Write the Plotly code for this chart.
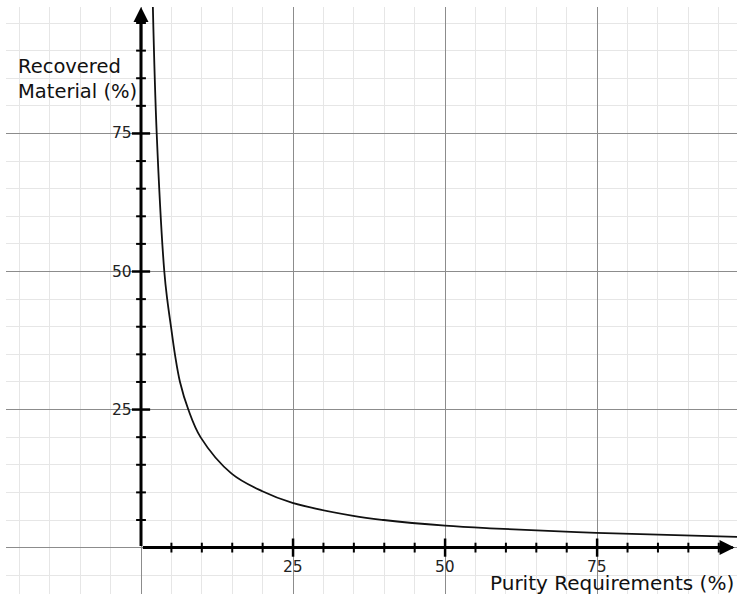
import plotly.graph_objects as go

# Values
purity = [1.95, 2.58, 3.83, 4.33, 4.93, 5.59, 6.41, 7.78, 9.81, 14.9, 19.95, 24.9, 34.9, 39.9, 50.0, 57.4, 74.9, 98.0]
recovered = [97.9, 75.0, 50.0, 44.8, 40.0, 34.9, 30.0, 25.0, 19.96, 13.4, 10.2, 8.1, 5.75, 5.0, 3.98, 3.5, 2.68, 1.96]

x_tick_labels = [25, 50, 75]
y_tick_labels = [25, 50, 75]
x_minor_ticks = [5, 10, 15, 20, 30, 35, 40, 45, 55, 60, 65, 70, 80, 85, 90, 95]
y_minor_ticks = [5, 10, 15, 20, 30, 35, 40, 45, 55, 60, 65, 70, 80, 85, 90, 95]

X_RANGE = [-22.2, 98.0]
Y_RANGE = [-8.4, 97.9]
FONT = "DejaVu Sans"

fig = go.Figure()

# curve
fig.add_trace(go.Scatter(x=purity, y=recovered, mode="lines",
                         line=dict(color="#111", width=1.8, shape="spline", smoothing=1.0),
                         hoverinfo="skip", showlegend=False))

# axis lines
fig.add_trace(go.Scatter(x=[0.3, 97.3], y=[0, 0], mode="lines",
                         line=dict(color="black", width=3), hoverinfo="skip", showlegend=False))
fig.add_trace(go.Scatter(x=[0, 0], y=[0.3, 96.8], mode="lines",
                         line=dict(color="black", width=3), hoverinfo="skip", showlegend=False))

# tick marks on axes
fig.add_trace(go.Scatter(x=x_minor_ticks, y=[0] * len(x_minor_ticks), mode="markers",
                         marker=dict(symbol="line-ns", size=7, line=dict(color="black", width=2)),
                         hoverinfo="skip", showlegend=False))
fig.add_trace(go.Scatter(x=x_tick_labels, y=[0] * len(x_tick_labels), mode="markers",
                         marker=dict(symbol="line-ns", size=13, line=dict(color="black", width=2.5)),
                         hoverinfo="skip", showlegend=False))
fig.add_trace(go.Scatter(x=[0] * len(y_minor_ticks), y=y_minor_ticks, mode="markers",
                         marker=dict(symbol="line-ew", size=7, line=dict(color="black", width=2)),
                         hoverinfo="skip", showlegend=False))
fig.add_trace(go.Scatter(x=[0] * len(y_tick_labels), y=y_tick_labels, mode="markers",
                         marker=dict(symbol="line-ew", size=13, line=dict(color="black", width=2.5)),
                         hoverinfo="skip", showlegend=False))

annotations = []
# arrow heads
annotations.append(dict(x=0, y=Y_RANGE[1], ax=0, ay=90, xref="x", yref="y", axref="x", ayref="y",
                        showarrow=True, arrowhead=2, arrowsize=1.2, arrowwidth=2.5, arrowcolor="black", text=""))
annotations.append(dict(x=97.6, y=0, ax=92, ay=0, xref="x", yref="y", axref="x", ayref="y",
                        showarrow=True, arrowhead=2, arrowsize=1.2, arrowwidth=2.5, arrowcolor="black", text=""))

for v in x_tick_labels:
    annotations.append(dict(x=v, y=0, xref="x", yref="y", text=str(v), showarrow=False,
                            xanchor="center", yanchor="top", yshift=-8,
                            font=dict(family=FONT, size=15.5, color="#222")))
for v in y_tick_labels:
    annotations.append(dict(x=0, y=v, xref="x", yref="y", text=str(v), showarrow=False,
                            xanchor="right", yanchor="middle", xshift=-7,
                            font=dict(family=FONT, size=15.5, color="#222")))

annotations.append(dict(x=-20.6, y=89.6, xref="x", yref="y", text="Recovered<br>Material (%)",
                        showarrow=False, xanchor="left", yanchor="top", align="left",
                        font=dict(family=FONT, size=19.5, color="#111")))
annotations.append(dict(x=1.0, y=0, xref="paper", yref="paper", text="Purity Requirements (%)",
                        showarrow=False, xanchor="right", yanchor="bottom", xshift=-1, yshift=-3,
                        font=dict(family=FONT, size=20, color="#111")))

fig.update_layout(
    width=737, height=594,
    margin=dict(l=6, r=0, t=7, b=0),
    paper_bgcolor="white", plot_bgcolor="white",
    annotations=annotations,
    xaxis=dict(range=X_RANGE, dtick=25, tick0=0, showgrid=True, gridcolor="#8c8c8c", gridwidth=1,
               minor=dict(dtick=5, tick0=0, showgrid=True, gridcolor="#e6e6e6", gridwidth=1.3),
               zeroline=False, showticklabels=False, ticks="", showline=False, fixedrange=True),
    yaxis=dict(range=Y_RANGE, dtick=25, tick0=0, showgrid=True, gridcolor="#8c8c8c", gridwidth=1,
               minor=dict(dtick=5, tick0=0, showgrid=True, gridcolor="#e6e6e6", gridwidth=1.3),
               zeroline=False, showticklabels=False, ticks="", showline=False, fixedrange=True),
)

fig.write_html("out.html", config={"displayModeBar": False},
               post_script="document.body.style.margin='0px';document.body.style.overflow='hidden';")
